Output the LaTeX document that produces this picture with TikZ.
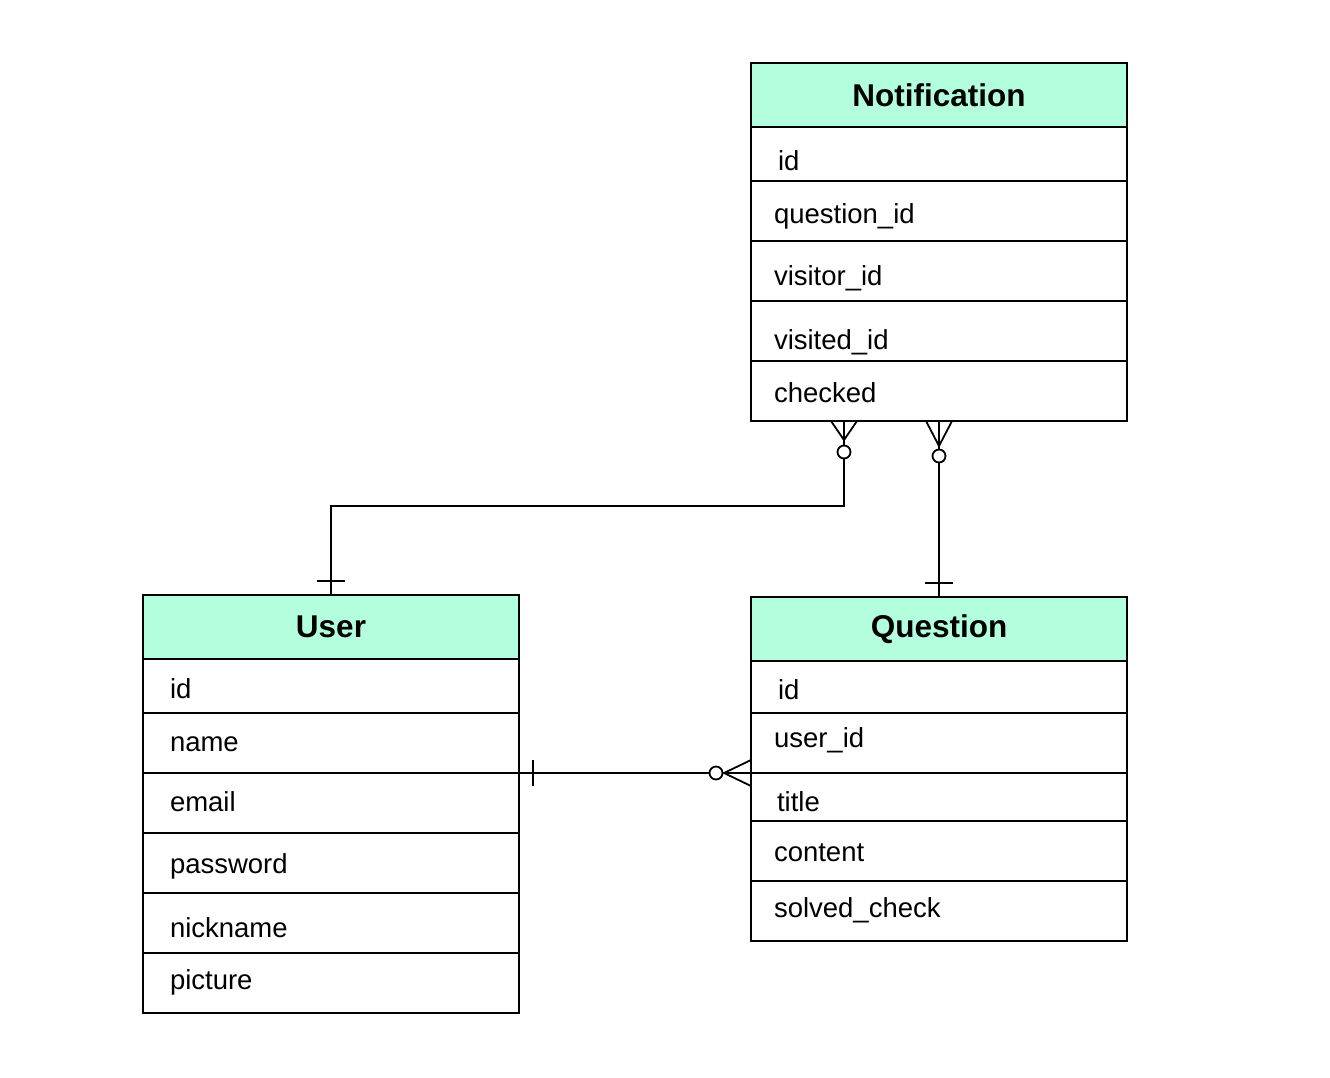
\documentclass[tikz,border=0pt]{standalone}
\usepackage{fontspec}
\setmainfont{Liberation Sans}
\usepackage{tikz}
\usetikzlibrary{calc}
\definecolor{hdrgreen}{RGB}{179,255,221}
\tikzset{
  hdr/.style={rectangle,draw,fill=hdrgreen,line width=1.8pt,outer sep=0pt,
    minimum width=376pt,minimum height=64pt,inner sep=0pt,
    font=\fontsize{31.5}{36}\selectfont\bfseries},
  fld/.style={rectangle,draw,line width=1.8pt,outer sep=0pt,anchor=north west,
    inner xsep=23pt,inner ysep=0pt,text width=330pt,align=left,
    text height=26pt,text depth=2pt,font=\fontsize{27.5}{32}\selectfont},
  fldid/.style={fld,inner xsep=27pt,text width=322pt},
  rel/.style={line width=1.8pt},
  ring/.style={rel,fill=white}
}
\begin{document}
\begin{tikzpicture}[x=1pt,y=-1pt]
\useasboundingbox (0,0) rectangle (1330,1078);
% Notification
\node[hdr,anchor=north west] (nhead) at (751,63) {Notification};
\node[fldid,minimum height=54pt,text height=36pt] (nid) at (nhead.south west) {id};
\node[fld,minimum height=60pt] (nqid) at (nid.south west) {question\_id};
\node[fld,minimum height=60pt,text height=30pt] (nvisitor) at (nqid.south west) {visitor\_id};
\node[fld,minimum height=60pt,text height=38pt] (nvisited) at (nvisitor.south west) {visited\_id};
\node[fld,minimum height=60pt,text height=24pt] (nchk) at (nvisited.south west) {checked};
% User
\node[hdr,anchor=north west] (uhead) at (143,595) {User};
\node[fldid,minimum height=54pt] (uid) at (uhead.south west) {id};
\node[fldid,minimum height=60pt,text height=18pt] (uname) at (uid.south west) {name};
\node[fldid,minimum height=60pt,text height=18pt] (uemail) at (uname.south west) {email};
\node[fldid,minimum height=60pt,text height=22pt] (upass) at (uemail.south west) {password};
\node[fldid,minimum height=60pt,text height=30pt] (unick) at (upass.south west) {nickname};
\node[fldid,minimum height=60pt,text height=14pt] (upic) at (unick.south west) {picture};
% Question
\node[hdr,anchor=north west] (qhead) at (751,597) {Question};
\node[fldid,minimum height=52pt] (qid) at (qhead.south west) {id};
\node[fld,minimum height=60pt,text height=10pt] (quser) at (qid.south west) {user\_id};
\node[fld,minimum height=48pt,text height=30pt] (qtitle) at (quser.south west) {\hspace*{3pt}title};
\node[fld,minimum height=60pt,text height=22pt] (qcont) at (qtitle.south west) {content};
\node[fld,minimum height=60pt,text height=14pt] (qsolved) at (qcont.south west) {solved\_check};
% relations
\coordinate (nu) at ($(nchk.south)+(-95,0)$);
\coordinate (bend) at ($(nu)+(0,85)$);
\draw[rel] (uhead.north) |- (bend) -- (nu);
\draw[rel] ($(uhead.north)+(-14,-14)$) -- ++(28,0);
\draw[rel] ($(nu)+(-13,0)$) -- ($(nu)+(0,19)$) -- ($(nu)+(13,0)$);
\draw[ring] ($(nu)+(0,31)$) circle (6.5pt);

\draw[rel] (qhead.north) -- (nchk.south);
\draw[rel] ($(qhead.north)+(-14,-14)$) -- ++(28,0);
\draw[rel] ($(nchk.south)+(-13,0)$) -- ($(nchk.south)+(0,25)$) -- ($(nchk.south)+(13,0)$);
\draw[ring] ($(nchk.south)+(0,35)$) circle (6.5pt);

\draw[rel] (uemail.north east) -- (qtitle.north west);
\draw[rel] ($(uemail.north east)+(14,-13)$) -- ++(0,26);
\draw[rel] ($(qtitle.north west)+(0,-13)$) -- ($(qtitle.north west)+(-27,0)$) -- ($(qtitle.north west)+(0,13)$);
\draw[ring] ($(qtitle.north west)+(-35,0)$) circle (6.5pt);
\end{tikzpicture}
\end{document}
